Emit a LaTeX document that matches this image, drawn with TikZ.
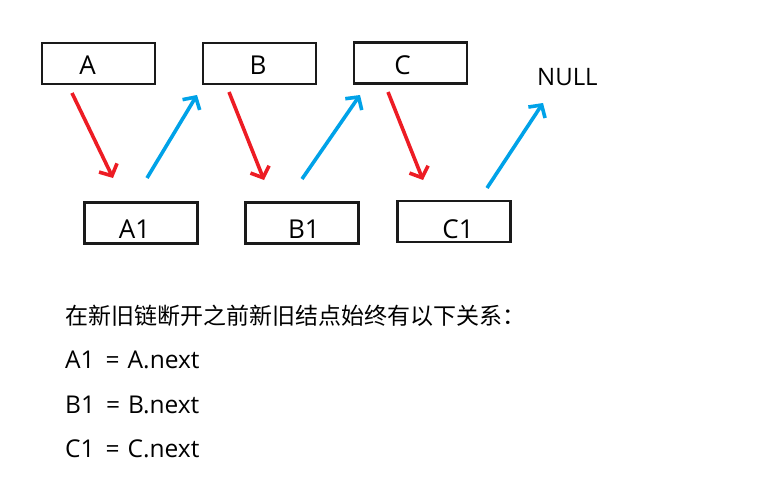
\documentclass[tikz,border=0pt]{standalone}
\usepackage{fontspec}
\setmainfont{Open Sans}
\newfontfamily\cjk{Noto Sans CJK SC}
\usetikzlibrary{arrows.meta}
\definecolor{pred}{HTML}{ED1C24}
\definecolor{pblue}{HTML}{00A2E8}
\definecolor{boxline}{HTML}{1A1A1A}
\tikzset{
  nodebox/.style={draw=boxline, line width=2.6pt, minimum width=113pt, minimum height=41pt, inner sep=0pt, fill=white},
  lbl/.style={anchor=base, inner sep=0pt, font=\fontsize{26}{30}\selectfont},
  redarrow/.style={draw=pred, line width=3.6pt, -{Straight Barb[length=9pt,width=20pt]}},
  bluearrow/.style={draw=pblue, line width=3.6pt, -{Straight Barb[length=9pt,width=20pt]}},
  txt/.style={anchor=base west, inner sep=0pt, font=\fontsize{24.5}{28}\selectfont},
}
\begin{document}
\begin{tikzpicture}[x=1pt,y=-1pt]
\useasboundingbox (0,0) rectangle (760,477);
% old nodes
\node[nodebox] (A) at (98.5,63.5) {};
\node[nodebox] (B) at (259.5,63.5) {};
\node[nodebox] (C) at (410.5,63) {};
\node[lbl] (Al) at (87.5,74) {A};
\node[lbl] (Bl) at (258,74) {B};
\node[lbl] (Cl) at (402.5,74) {C};
% new nodes
\node[nodebox] (A1) at (141,223) {};
\node[nodebox] (B1) at (302,223) {};
\node[nodebox] (C1) at (454,221.5) {};
\node[lbl] (A1l) at (134.5,238) {A1};
\node[lbl] (B1l) at (304,238) {B1};
\node[lbl] (C1l) at (458,238) {C1};
\node[anchor=base west, inner sep=0pt, font=\fontsize{24}{28}\selectfont] (null) at (537,85) {NULL};
% arrow end points
\coordinate (a0) at (72,93);   \coordinate (a1) at (113,178);
\coordinate (b0) at (147,178); \coordinate (b1) at (197,95);
\coordinate (c0) at (229,92);  \coordinate (c1) at (264,180);
\coordinate (d0) at (302,179); \coordinate (d1) at (360,95);
\coordinate (e0) at (388,92);  \coordinate (e1) at (423,180);
\coordinate (f0) at (487,188); \coordinate (f1) at (543,103);
\draw[redarrow] (a0) -- (a1);
\draw[bluearrow] (b0) -- (b1);
\draw[redarrow] (c0) -- (c1);
\draw[bluearrow] (d0) -- (d1);
\draw[redarrow] (e0) -- (e1);
\draw[bluearrow] (f0) -- (f1);
% text
\node[anchor=base west, inner sep=0pt, font=\cjk\fontsize{23}{28}\selectfont] (t0) at (65,324) {在新旧链断开之前新旧结点始终有以下关系：};
\node[txt] (t1) at (65,368) {A1\hspace{11pt}=\hspace{8pt}A.next};
\node[txt] (t2) at (65,413) {B1\hspace{11pt}=\hspace{8pt}B.next};
\node[txt] (t3) at (65,457) {C1\hspace{11pt}=\hspace{8pt}C.next};
\end{tikzpicture}
\end{document}
